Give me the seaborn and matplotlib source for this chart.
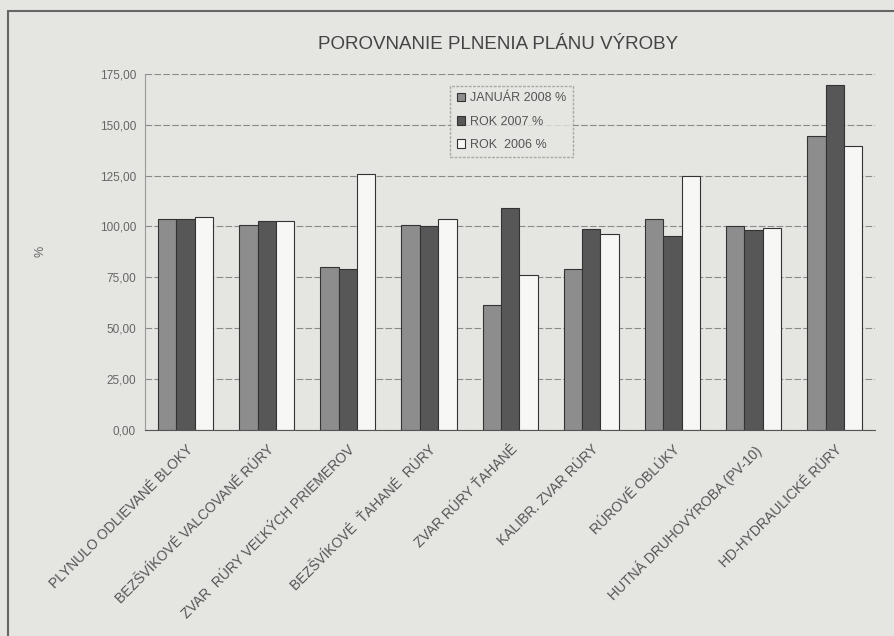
import pandas as pd
import matplotlib
matplotlib.use("Agg")
import matplotlib.pyplot as plt
import seaborn as sns
from matplotlib.patches import Rectangle

# production plan fulfilment in %
categories = ["PLYNULO ODLIEVANÉ BLOKY", "BEZŠVÍKOVÉ VALCOVANÉ RÚRY",
              "ZVAR  RÚRY VEĽKÝCH PRIEMEROV", "BEZŠVÍKOVÉ  ŤAHANÉ  RÚRY",
              "ZVAR RÚRY ŤAHANÉ", "KALIBR. ZVAR RÚRY", "RÚROVÉ OBLÚKY",
              "HUTNÁ DRUHOVÝROBA (PV-10)", "HD-HYDRAULICKÉ RÚRY"]
series = ["JANUÁR 2008 %", "ROK 2007 %", "ROK  2006 %"]
jan_2008 = [103.5, 100.8, 80.0, 100.5, 61.5, 79.0, 103.5, 100.2, 144.5]
rok_2007 = [103.5, 102.8, 79.0, 100.0, 109.0, 98.5, 95.5, 98.3, 169.5]
rok_2006 = [104.5, 102.5, 126.0, 103.5, 76.0, 96.5, 125.0, 99.0, 139.5]
yticks = [0, 25, 50, 75, 100, 125, 150, 175]

data = pd.DataFrame({
    "kategoria": categories * 3,
    "rad": [s for s in series for _ in categories],
    "hodnota": jan_2008 + rok_2007 + rok_2006,
})

bg = "#e5e5e2"
sns.set_style("white")
plt.rcParams["font.family"] = ["Liberation Sans", "DejaVu Sans"]

fig = plt.figure(figsize=(8.95, 6.36), dpi=100, facecolor=bg)
ax = fig.add_axes([0.162, 0.324, 0.816, 0.56])
ax.set_facecolor(bg)

sns.barplot(data=data, x="kategoria", y="hodnota", hue="rad",
            palette=["#8d8d8d", "#575757", "#f7f7f5"], width=0.68,
            edgecolor="#333333", linewidth=0.8, saturation=1, ax=ax)

ax.set_ylim(0, 175)
ax.set_yticks(yticks)
ax.set_yticklabels([f"{v:.2f}".replace(".", ",") for v in yticks], fontsize=8.5, color="#666666")
ax.yaxis.grid(True, color="#8a8a8a", linewidth=0.8, linestyle=(0, (6, 2)))
ax.set_axisbelow(True)
ax.set_xlabel("")
ax.set_ylabel("%", fontsize=9, color="#666666")
ax.yaxis.set_label_coords(-0.135, 0.5)
ax.set_xticks(range(len(categories)))
ax.set_xticklabels(categories, rotation=45, ha="right", rotation_mode="anchor",
                   fontsize=10, color="#555555")
ax.tick_params(axis="y", length=3, color="#888888")
ax.tick_params(axis="x", length=0, pad=9)
for s in ["top", "right"]:
    ax.spines[s].set_visible(False)
ax.spines["left"].set_color("#999999")
ax.spines["bottom"].set_color("#555555")

fig.text(0.557, 0.93, "POROVNANIE PLNENIA PLÁNU VÝROBY", fontsize=13.5,
         color="#444444", ha="center", va="center")

leg = ax.legend(loc="upper left", bbox_to_anchor=(0.418, 0.965), fontsize=9,
                frameon=True, fancybox=False, handlelength=0.7, handletextpad=0.4,
                labelspacing=0.9, borderpad=0.5, borderaxespad=0)
leg.get_frame().set_facecolor(bg)
leg.get_frame().set_edgecolor("#999999")
leg.get_frame().set_linestyle((0, (2, 1)))
for t in leg.get_texts():
    t.set_color("#555555")

# outer frame of the scanned page
fig.patches.append(Rectangle((0.009, -0.01), 1.2, 0.992, transform=fig.transFigure,
                             fill=False, edgecolor="#666666", linewidth=1.5))

fig.savefig("out.png", dpi=100, facecolor=bg)
